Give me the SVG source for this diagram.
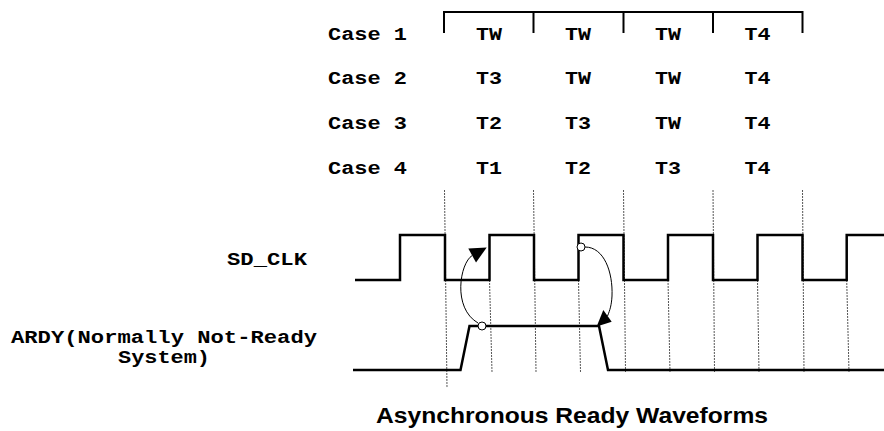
<svg xmlns="http://www.w3.org/2000/svg" width="884" height="431" viewBox="0 0 884 431">
<style>
.mono{font-family:"Liberation Mono","Courier New",monospace;font-weight:bold;font-size:19px;fill:#000}
.title{font-family:"Liberation Sans",Arial,sans-serif;font-weight:bold;font-size:22.5px;fill:#000}
.wave{fill:none;stroke:#000;stroke-width:2.5;stroke-linejoin:miter}
.brk{fill:none;stroke:#000;stroke-width:2}
.grid{fill:none;stroke:#555;stroke-width:1;stroke-dasharray:2,1}
.curve{fill:none;stroke:#000;stroke-width:1}
.head{fill:#000;stroke:none}
.dot{fill:#fff;stroke:#000;stroke-width:1}
</style>
<rect width="884" height="431" fill="#fff"/>
<g id="bracket">
<path class="brk" d="M444,33 V12 H802.5 V33 M533.5,12 V33 M623.5,12 V33 M713,12 V33"/>
</g>
<g id="case-table">
<text class="mono" x="328" y="39.5" textLength="79" lengthAdjust="spacingAndGlyphs">Case 1</text>
<text class="mono" x="328" y="84" textLength="79" lengthAdjust="spacingAndGlyphs">Case 2</text>
<text class="mono" x="328" y="128.5" textLength="79" lengthAdjust="spacingAndGlyphs">Case 3</text>
<text class="mono" x="328" y="173.5" textLength="79" lengthAdjust="spacingAndGlyphs">Case 4</text>
<g text-anchor="middle">
<text class="mono" x="489" y="39.5" textLength="26" lengthAdjust="spacingAndGlyphs">TW</text>
<text class="mono" x="578" y="39.5" textLength="26" lengthAdjust="spacingAndGlyphs">TW</text>
<text class="mono" x="668" y="39.5" textLength="26" lengthAdjust="spacingAndGlyphs">TW</text>
<text class="mono" x="757.5" y="39.5" textLength="26" lengthAdjust="spacingAndGlyphs">T4</text>
<text class="mono" x="489" y="84" textLength="26" lengthAdjust="spacingAndGlyphs">T3</text>
<text class="mono" x="578" y="84" textLength="26" lengthAdjust="spacingAndGlyphs">TW</text>
<text class="mono" x="668" y="84" textLength="26" lengthAdjust="spacingAndGlyphs">TW</text>
<text class="mono" x="757.5" y="84" textLength="26" lengthAdjust="spacingAndGlyphs">T4</text>
<text class="mono" x="489" y="128.5" textLength="26" lengthAdjust="spacingAndGlyphs">T2</text>
<text class="mono" x="578" y="128.5" textLength="26" lengthAdjust="spacingAndGlyphs">T3</text>
<text class="mono" x="668" y="128.5" textLength="26" lengthAdjust="spacingAndGlyphs">TW</text>
<text class="mono" x="757.5" y="128.5" textLength="26" lengthAdjust="spacingAndGlyphs">T4</text>
<text class="mono" x="489" y="173.5" textLength="26" lengthAdjust="spacingAndGlyphs">T1</text>
<text class="mono" x="578" y="173.5" textLength="26" lengthAdjust="spacingAndGlyphs">T2</text>
<text class="mono" x="668" y="173.5" textLength="26" lengthAdjust="spacingAndGlyphs">T3</text>
<text class="mono" x="757.5" y="173.5" textLength="26" lengthAdjust="spacingAndGlyphs">T4</text>
</g>
</g>
<g id="grid-lines">
<path class="grid" d="M444.5,190 L447,388 M533.5,190 L536,372 M623.5,190 L625.5,372 M713,190 L714.5,372 M802.5,190 L804,372"/>
<path class="grid" d="M489.5,280 L492,372 M578.5,280 L580.5,372 M668,280 L670,372 M757.5,280 L759,372 M846.7,280 L849,372"/>
</g>
<g id="sd-clk">
<text class="mono" x="227" y="264.5" textLength="80" lengthAdjust="spacingAndGlyphs">SD_CLK</text>
<path class="wave" d="M355,280 H400 V235 H445 V280 H489.5 V235 H534 V280 H578.5 V235 H623.5 V280 H668 V235 H713 V280 H757.5 V235 H802.5 V280 H846.7 V235 H884"/>
</g>
<g id="ardy">
<text class="mono" x="164" y="343.3" text-anchor="middle" textLength="306" lengthAdjust="spacingAndGlyphs">ARDY(Normally Not-Ready</text>
<text class="mono" x="164" y="363.3" text-anchor="middle" textLength="92" lengthAdjust="spacingAndGlyphs">System)</text>
<path class="wave" d="M353,370 H460.5 L469.5,326 H599 L608,370 H884"/>
</g>
<g id="connectors">
<path class="curve" d="M478,323 C452,308 460,263 472.2,255.5"/>
<polygon class="head" points="486.7,247.5 468.3,248.5 476,262.5"/>
<path class="curve" d="M585,247 C604,247 613,272 612,296 C611.5,305 610,310 607.5,316"/>
<polygon class="head" points="596.7,326.5 603.3,310 611.7,321.7"/>
<circle class="dot" cx="482" cy="326" r="4"/>
<circle class="dot" cx="581" cy="247" r="4"/>
</g>
<g id="caption">
<text class="title" x="376" y="422.7" textLength="392" lengthAdjust="spacingAndGlyphs">Asynchronous Ready Waveforms</text>
</g>
</svg>
